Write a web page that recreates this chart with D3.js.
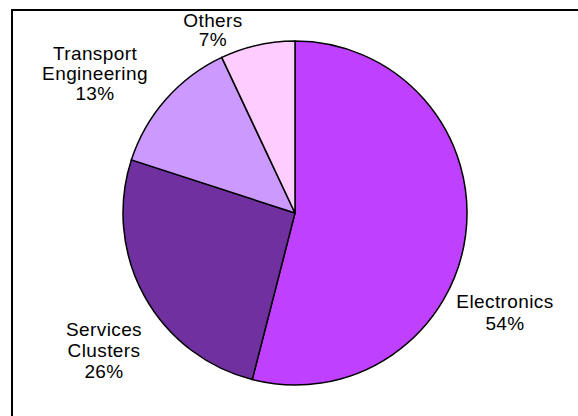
<!DOCTYPE html>
<html>
<head>
<meta charset="utf-8">
<script src="https://cdn.jsdelivr.net/npm/d3@7"></script>
<style>
  body { margin: 0; background: #fff; }
  text { font-family: "Liberation Sans", Arial, sans-serif; }
</style>
</head>
<body>
<svg id="chart"></svg>
<script>
// data
const categories = ["Electronics", "Services Clusters", "Transport Engineering", "Others"];
const shares = [54, 26, 13, 7];
const colors = ["#bf40ff", "#7030a0", "#cc99ff", "#ffccff"];

// label lines and where they sit (centre x, first baseline y)
const labelLines = [["Electronics"], ["Services", "Clusters"], ["Transport", "Engineering"], ["Others"]];
const labelPos = [[505, 308], [104, 336], [95, 60], [213, 27]];
const lineGap = [22, 21, 20, 19];

const width = 578, height = 416;
const cx = 295, cy = 213, radius = 172;

const svg = d3.select("#chart").attr("width", width).attr("height", height);

// chart frame, runs off the right and bottom edge
svg.append("rect")
    .attr("x", 12).attr("y", 10)
    .attr("width", width).attr("height", height)
    .attr("fill", "#fff")
    .attr("stroke", "#000")
    .attr("stroke-width", 2);

const data = categories.map((c, i) => ({ name: c, value: shares[i], color: colors[i], i }));

const pie = d3.pie().value(d => d.value).sort(null);
const arc = d3.arc().innerRadius(0).outerRadius(radius);

const g = svg.append("g").attr("transform", `translate(${cx}, ${cy})`);

g.selectAll("path")
    .data(pie(data))
    .join("path")
    .attr("d", arc)
    .attr("fill", d => d.data.color)
    .attr("stroke", "#000")
    .attr("stroke-width", 1.5)
    .attr("stroke-linejoin", "round");

const labels = svg.append("g").selectAll("text")
    .data(data)
    .join("text")
    .attr("text-anchor", "middle")
    .attr("font-size", 19)
    .attr("letter-spacing", 0.4)
    .attr("fill", "#000")
    .attr("x", d => labelPos[d.i][0])
    .attr("y", d => labelPos[d.i][1]);

labels.each(function (d) {
    const t = d3.select(this);
    const lines = labelLines[d.i].concat([d.value + "%"]);
    lines.forEach((ln, k) => {
        t.append("tspan")
            .attr("x", labelPos[d.i][0])
            .attr("dy", k === 0 ? 0 : lineGap[d.i])
            .text(ln);
    });
});
</script>
</body>
</html>
